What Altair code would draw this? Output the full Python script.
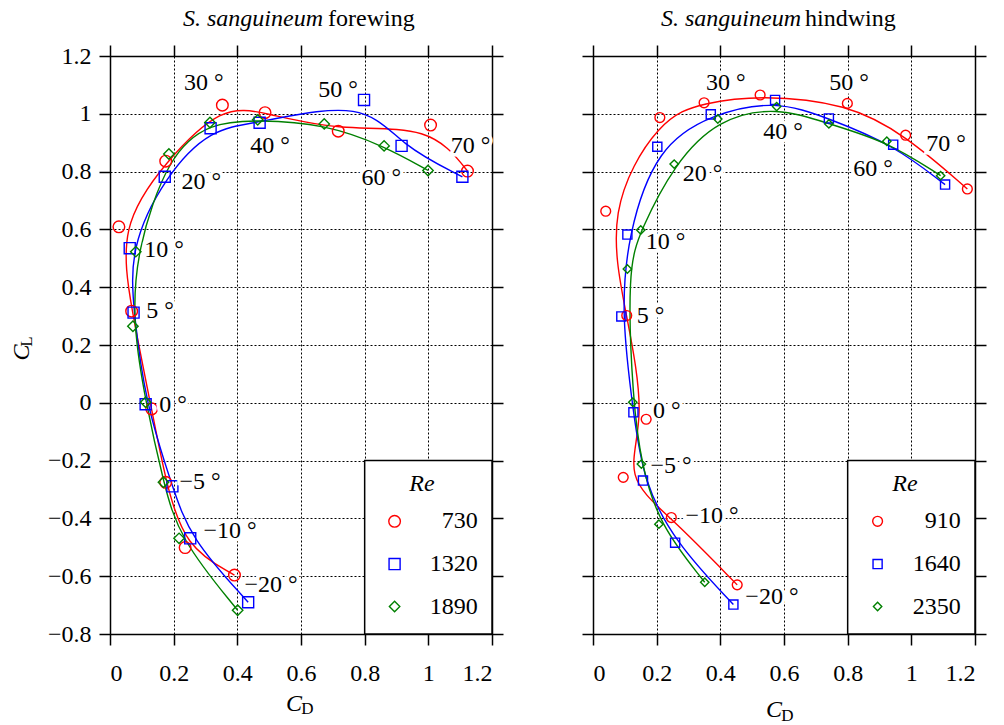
import altair as alt
import pandas as pd

# ---------------- data ----------------
ANGLES = [-20, -10, -5, 0, 5, 10, 20, 30, 40, 50, 60, 70]

FORE_RE = ["730", "1320", "1890"]
FORE_CD_730 = [0.391, 0.236, 0.175, 0.131, 0.068, 0.028, 0.175, 0.353, 0.487, 0.717, 1.007, 1.123]
FORE_CL_730 = [-0.596, -0.501, -0.275, -0.021, 0.317, 0.609, 0.836, 1.030, 1.004, 0.940, 0.961, 0.802]
FORE_CD_1320 = [0.434, 0.252, 0.196, 0.112, 0.074, 0.062, 0.172, 0.316, 0.470, 0.798, 0.916, 1.107]
FORE_CL_1320 = [-0.690, -0.469, -0.289, -0.005, 0.312, 0.535, 0.782, 0.950, 0.969, 1.048, 0.889, 0.782]
FORE_CD_1890 = [0.401, 0.217, 0.168, 0.112, 0.072, 0.081, 0.185, 0.314, 0.464, 0.673, 0.861, 0.999]
FORE_CL_1890 = [-0.718, -0.469, -0.275, 0.002, 0.265, 0.523, 0.861, 0.970, 0.979, 0.965, 0.889, 0.804]

HIND_RE = ["910", "1640", "2350"]
HIND_CD_910 = [0.453, 0.246, 0.095, 0.167, 0.106, 0.040, 0.210, 0.349, 0.525, 0.799, 0.982, 1.176]
HIND_CL_910 = [-0.630, -0.397, -0.258, -0.057, 0.302, 0.663, 0.987, 1.038, 1.065, 1.036, 0.926, 0.740]
HIND_CD_1640 = [0.441, 0.258, 0.157, 0.127, 0.089, 0.108, 0.202, 0.370, 0.572, 0.741, 0.943, 1.106]
HIND_CL_1640 = [-0.698, -0.484, -0.269, -0.033, 0.299, 0.582, 0.886, 0.998, 1.048, 0.984, 0.893, 0.755]
HIND_CD_2350 = [0.351, 0.207, 0.152, 0.125, 0.108, 0.150, 0.255, 0.392, 0.577, 0.741, 0.923, 1.092]
HIND_CL_2350 = [-0.621, -0.420, -0.212, 0.002, 0.463, 0.598, 0.826, 0.982, 1.025, 0.965, 0.905, 0.786]

# angle annotations (centre of label, data coordinates)
FORE_LBL_X = [0.506, 0.377, 0.283, 0.198, 0.157, 0.170, 0.287, 0.295, 0.503, 0.716, 0.852, 1.133]
FORE_LBL_Y = [-0.632, -0.442, -0.274, -0.006, 0.316, 0.529, 0.764, 1.107, 0.890, 1.082, 0.778, 0.890]
HIND_LBL_X = [0.562, 0.374, 0.245, 0.232, 0.181, 0.228, 0.344, 0.417, 0.597, 0.804, 0.880, 1.109]
HIND_LBL_Y = [-0.672, -0.393, -0.217, -0.030, 0.302, 0.558, 0.792, 1.107, 0.937, 1.107, 0.809, 0.896]

X_TICKS = [0, 0.2, 0.4, 0.6, 0.8, 1.0, 1.2]
Y_TICKS = [-0.8, -0.6, -0.4, -0.2, 0, 0.2, 0.4, 0.6, 0.8, 1.0, 1.2]

# ---------------- styling ----------------
W, H = 382, 578
FONT = "Liberation Serif"
COLORS = ["#ff0000", "#0000ff", "#008000"]
SHAPES = ["circle", "square", "diamond"]
SIZES = [135, 70, 55]
XS = alt.Scale(domain=[0, 1.2], nice=False, zero=False)
YS = alt.Scale(domain=[-0.8, 1.2], nice=False, zero=False)


def angle_text(a):
    return ("\u2212" if a < 0 else "") + str(abs(a)) + " \u00b0"


def txt(text, x, y, size, style="normal", align="center", angle=0, baseline="alphabetic"):
    return alt.Chart(pd.DataFrame({"t": [text]})).mark_text(
        font=FONT, fontSize=size, fontStyle=style, align=align,
        baseline=baseline, angle=angle, color="black"
    ).encode(x=alt.value(x), y=alt.value(y), text="t:N")


def axis(orient, values, labels, grid):
    kw = dict(orient=orient, values=values, title=None, grid=grid,
              domain=True, domainColor="black", domainWidth=1.5,
              ticks=True, tickColor="black", tickWidth=1.5, tickSize=11,
              labels=labels)
    if grid:
        kw.update(gridColor="black", gridDash=[2, 2], gridWidth=1, gridOpacity=1)
    if labels:
        kw.update(format=".1~f", labelFont=FONT, labelFontSize=24, labelColor="black",
                  labelPadding=8 if orient == "left" else 16)
    return alt.Axis(**kw)


def panel(title_it, title_rm, t_split, re_labels, cds, cls, lbl_x, lbl_y,
          y_labels, cd_pos, cl_pos):
    rows = []
    for lab, cd, cl in zip(re_labels, cds, cls):
        for a, x, y in zip(ANGLES, cd, cl):
            rows.append({"re": lab, "angle": a, "cd": x, "cl": y})
    df = pd.DataFrame(rows)

    col = alt.Color("re:N", scale=alt.Scale(domain=re_labels, range=COLORS), legend=None)
    shp = alt.Shape("re:N", scale=alt.Scale(domain=re_labels, range=SHAPES), legend=None)
    siz = alt.Size("re:N", scale=alt.Scale(domain=re_labels, range=SIZES), legend=None)

    lines = alt.Chart(df).mark_line(interpolate="basis", strokeWidth=1.4).encode(
        x=alt.X("cd:Q", scale=XS, axis=axis("bottom", X_TICKS, True, True)),
        y=alt.Y("cl:Q", scale=YS, axis=axis("left", Y_TICKS, y_labels, True)),
        color=col, order=alt.Order("angle:Q"),
    )
    pts = alt.Chart(df).mark_point(filled=False, strokeWidth=1.4, opacity=1).encode(
        x=alt.X("cd:Q", scale=XS, axis=axis("top", X_TICKS, False, False)),
        y=alt.Y("cl:Q", scale=YS, axis=axis("right", Y_TICKS, False, False)),
        color=col, shape=shp, size=siz,
    )

    ldf = pd.DataFrame({"x": lbl_x, "y": lbl_y, "t": [angle_text(a) for a in ANGLES]})
    lab_enc = dict(x=alt.X("x:Q", scale=XS, axis=None), y=alt.Y("y:Q", scale=YS, axis=None), text="t:N")
    halo = alt.Chart(ldf).mark_text(font=FONT, fontSize=24, stroke="white", strokeWidth=7,
                                    color="white", baseline="middle").encode(**lab_enc)
    labs = alt.Chart(ldf).mark_text(font=FONT, fontSize=24, color="black",
                                    baseline="middle").encode(**lab_enc)

    # legend box
    box = alt.Chart(pd.DataFrame({"x": [0.8], "x2": [1.2], "y": [-0.8], "y2": [-0.2]})).mark_rect(
        fill="white", stroke="black", strokeWidth=1.5
    ).encode(x=alt.X("x:Q", scale=XS, axis=None), x2="x2:Q",
             y=alt.Y("y:Q", scale=YS, axis=None), y2="y2:Q")
    leg = pd.DataFrame({"re": re_labels, "y": [-0.41, -0.558, -0.705]})
    leg_pts = alt.Chart(leg).mark_point(filled=False, strokeWidth=1.4, opacity=1).encode(
        x=alt.value((0.894 / 1.2) * W),
        y=alt.Y("y:Q", scale=YS, axis=None), color=col, shape=shp, size=siz)
    leg_txt = alt.Chart(leg).mark_text(font=FONT, fontSize=24, color="black", align="right",
                                       baseline="middle").encode(
        x=alt.value((1.155 / 1.2) * W), y=alt.Y("y:Q", scale=YS, axis=None), text="re:N")
    re_title = txt("Re", (0.98 / 1.2) * W, (1.2 + 0.281) / 2.0 * H, 24, style="italic",
                   baseline="middle")

    t1 = txt(title_it, t_split[0], -30, 24, style="italic", align="right")
    t2 = txt(title_rm, t_split[1], -30, 24, align="left")
    cd1 = txt("C", cd_pos[0], cd_pos[1], 24, style="italic")
    cd2 = txt("D", cd_pos[0] + 13.5, cd_pos[1] + 3.5, 17)
    layers = [lines, pts, halo, labs, box, leg_pts, leg_txt, re_title, t1, t2, cd1, cd2]
    if cl_pos is not None:
        cl1 = txt("C", cl_pos[0], cl_pos[1], 24, style="italic", angle=270)
        cl2 = txt("L", cl_pos[0] + 2.5, cl_pos[1] - 11, 17, angle=270)
        layers += [cl1, cl2]
    return alt.layer(*layers).resolve_axis(x="independent", y="independent").properties(
        width=W, height=H)


left = panel("S. sanguineum", "forewing", (213, 218), FORE_RE,
             [FORE_CD_730, FORE_CD_1320, FORE_CD_1890],
             [FORE_CL_730, FORE_CL_1320, FORE_CL_1890],
             FORE_LBL_X, FORE_LBL_Y, True, (184, 654.7), (-81, 296.5))
right = panel("S. sanguineum", "hindwing", (208, 212), HIND_RE,
              [HIND_CD_910, HIND_CD_1640, HIND_CD_2350],
              [HIND_CL_910, HIND_CL_1640, HIND_CL_2350],
              HIND_LBL_X, HIND_LBL_Y, False, (181, 661), None)

chart = alt.hconcat(left, right, spacing=75).properties(
    padding={"left": 9, "top": 6, "right": 5, "bottom": 0}
).configure_view(stroke=None).configure(background="white")

chart.save("out.html", embed_options={"renderer": "svg", "actions": False})
